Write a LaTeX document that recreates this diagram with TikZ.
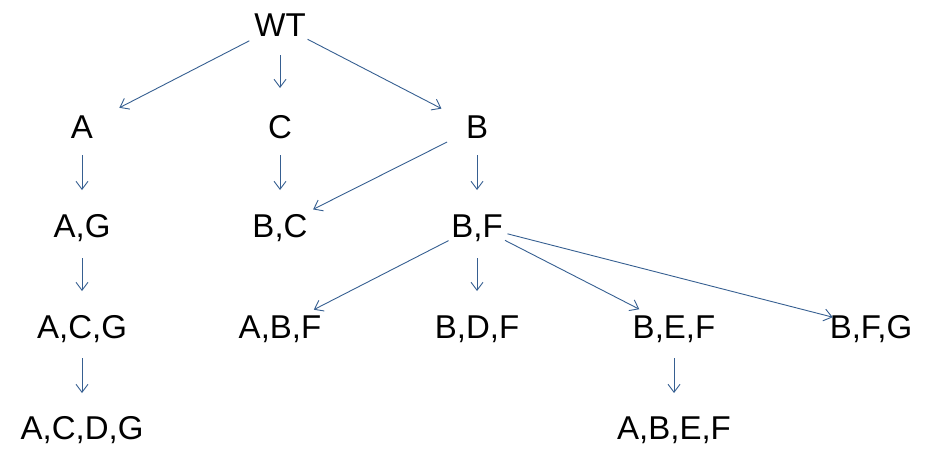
\documentclass[tikz,border=0pt]{standalone}
\usepackage{fontspec}
\setmainfont{Liberation Sans}
\usetikzlibrary{arrows.meta}
\definecolor{arrcol}{RGB}{54,95,145}
\begin{document}
\begin{tikzpicture}[x=1pt,y=-1pt,
  lbl/.style={inner sep=0pt,text height=23.6pt,text depth=0pt,font=\fontsize{33}{36}\selectfont},
  arr/.style={draw=arrcol,line width=0.9pt,-{Straight Barb[length=8pt,width=12pt,line width=0.9pt]}}]
\useasboundingbox (0,0) rectangle (937,450);
\node[lbl] (WT) at (280,25) {WT};
\node[lbl] (A) at (82,127) {A};
\node[lbl] (C) at (280,127) {C};
\node[lbl] (B) at (477,127) {B};
\node[lbl] (AG) at (82,226) {A,G};
\node[lbl] (BC) at (280,226) {B,C};
\node[lbl] (BF) at (477,226) {B,F};
\node[lbl] (ACG) at (82,327) {A,C,G};
\node[lbl] (ABF) at (280,327) {A,B,F};
\node[lbl] (BDF) at (477,327) {B,D,F};
\node[lbl] (BEF) at (674,327) {B,E,F};
\node[lbl] (BFG) at (871,327) {B,F,G};
\node[lbl] (ACDG) at (82,428) {A,C,D,G};
\node[lbl] (ABEF) at (674,428) {A,B,E,F};
\draw[arr,shorten <=34.5pt,shorten >=42pt] (WT.center) -- (A.center);
\draw[arr,shorten <=30pt,shorten >=39pt] (WT.center) -- (C.center);
\draw[arr,shorten <=31pt,shorten >=40pt] (WT.center) -- (B.center);
\draw[arr,shorten <=28pt,shorten >=36pt] (A.center) -- (AG.center);
\draw[arr,shorten <=28pt,shorten >=36pt] (C.center) -- (BC.center);
\draw[arr,shorten <=33.5pt,shorten >=37pt] (B.center) -- (BC.center);
\draw[arr,shorten <=28pt,shorten >=36pt] (B.center) -- (BF.center);
\draw[arr,shorten <=32pt,shorten >=36pt] (AG.center) -- (ACG.center);
\draw[arr,shorten <=32pt,shorten >=38pt] (BF.center) -- (ABF.center);
\draw[arr,shorten <=32pt,shorten >=36pt] (BF.center) -- (BDF.center);
\draw[arr,shorten <=31.5pt,shorten >=39pt] (BF.center) -- (BEF.center);
\draw[arr,shorten <=31.5pt,shorten >=39.5pt] (BF.center) -- (BFG.center);
\draw[arr,shorten <=31pt,shorten >=35pt] (ACG.center) -- (ACDG.center);
\draw[arr,shorten <=31pt,shorten >=35pt] (BEF.center) -- (ABEF.center);
\end{tikzpicture}
\end{document}
